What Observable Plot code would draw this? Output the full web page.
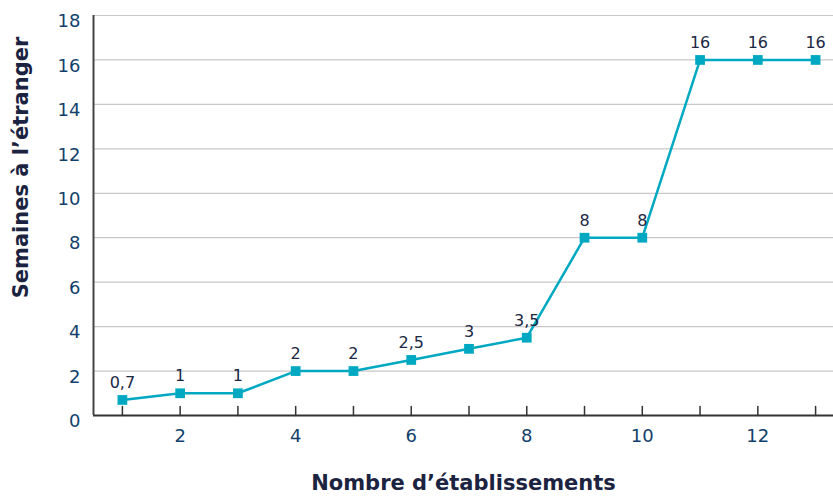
<!DOCTYPE html>
<html>
<head>
<meta charset="utf-8">
<script src="https://cdn.jsdelivr.net/npm/d3@7"></script>
<script src="https://cdn.jsdelivr.net/npm/@observablehq/plot@0.6"></script>
<style>
  html, body { margin: 0; padding: 0; background: #fff; }
  #chart svg { display: block; }
</style>
</head>
<body>
<div id="chart"></div>
<script>
const establishments = [1, 2, 3, 4, 5, 6, 7, 8, 9, 10, 11, 12, 13];
const weeks = [0.7, 1, 1, 2, 2, 2.5, 3, 3.5, 8, 8, 16, 16, 16];
const xTickLabels = [2, 4, 6, 8, 10, 12];
const xTickMarks = [1, 2, 3, 4, 5, 6, 7, 8, 9, 10, 11, 12, 13];
const yTicks = [0, 2, 4, 6, 8, 10, 12, 14, 16, 18];
const xTitle = "Nombre d’établissements";
const yTitle = "Semaines à l’étranger";

const data = establishments.map((x, i) => ({x, y: weeks[i], label: String(weeks[i]).replace(".", ",")}));
const xDomain = [0.5, 13.31];
const font = "'DejaVu Sans', sans-serif";
const tickColor = "#123f6b";

const tickShape = { draw(ctx, l) { ctx.moveTo(0, 0); ctx.lineTo(0, -l); } };

const chart = Plot.plot({
  width: 833,
  height: 499,
  marginLeft: 93,
  marginRight: 0,
  marginTop: 15,
  marginBottom: 84,
  style: { fontFamily: font, background: "#fff" },
  x: { domain: xDomain },
  y: { domain: [0, 18] },
  marks: [
    Plot.gridY(yTicks.filter(d => d > 0), { stroke: "#c8c8c8", strokeOpacity: 1, strokeWidth: 1.2 }),
    Plot.axisY(yTicks, { tickSize: 0, tickPadding: 13, fontSize: 18, fill: tickColor, dy: 6, label: null }),
    Plot.axisX(xTickLabels, { tickSize: 0, tickPadding: 14, fontSize: 18, fill: tickColor, label: null }),
    Plot.ruleY([0], { stroke: "#333", strokeWidth: 2 }),
    Plot.ruleX([xDomain[0]], { stroke: "#444", strokeWidth: 2 }),
    Plot.vector(xTickMarks, { x: d => d, y: () => 0, length: 9, rotate: 0, anchor: "start", shape: tickShape, stroke: "#333", strokeWidth: 1.5 }),
    Plot.line(data, { x: "x", y: "y", stroke: "#00a9c1", strokeWidth: 2.5 }),
    Plot.dot(data, { x: "x", y: "y", symbol: "square", r: 5.5, fill: "#00a9c1", stroke: "none" }),
    Plot.text(data, { x: "x", y: "y", text: "label", dy: -17, fontSize: 16, fill: "#1b2744" }),
    Plot.text([xTitle], { frameAnchor: "bottom", textAnchor: "middle", dy: 74, fontSize: 21, fontWeight: "bold", fill: "#1b2340" }),
    Plot.text([yTitle], { frameAnchor: "left", textAnchor: "middle", dx: -72, dy: -48, rotate: -90, fontSize: 21, fontWeight: "bold", fill: "#1b2340" })
  ]
});
document.getElementById("chart").appendChild(chart);
</script>
</body>
</html>
